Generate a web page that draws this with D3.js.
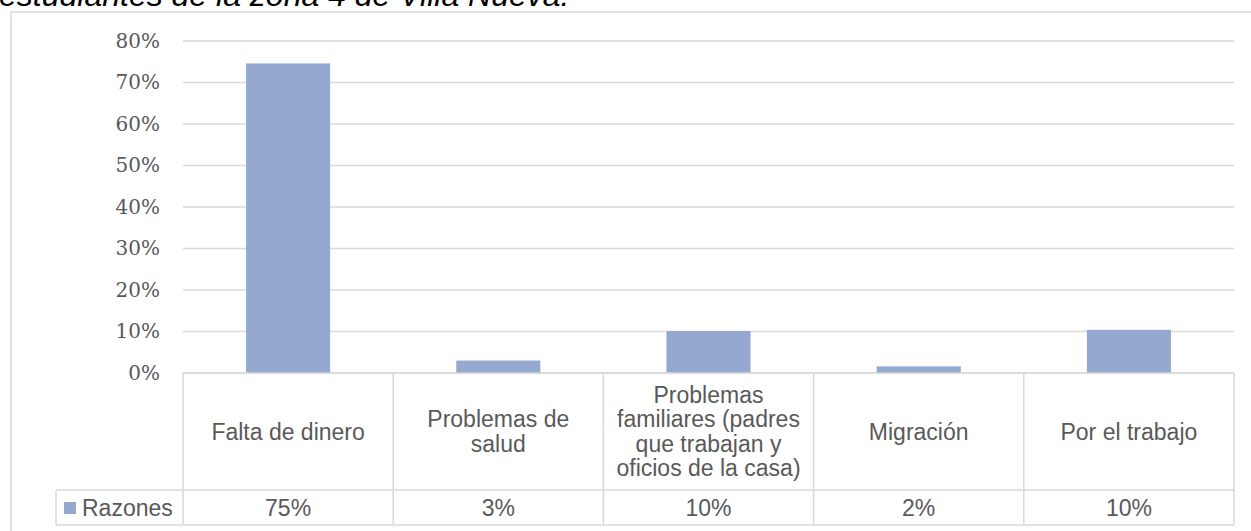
<!DOCTYPE html>
<html>
<head>
<meta charset="utf-8">
<script src="https://cdn.jsdelivr.net/npm/d3@7"></script>
<style>
  html, body { margin: 0; padding: 0; background: #ffffff; overflow: hidden; }
  svg { display: block; }
</style>
</head>
<body>
<svg id="chart" width="1251" height="531"></svg>
<script>
// ---- Data ----
const categories = [
  "Falta de dinero",
  "Problemas de salud",
  "Problemas familiares (padres que trabajan y oficios de la casa)",
  "Migración",
  "Por el trabajo"
];
const categoryLines = [
  ["Falta de dinero"],
  ["Problemas de", "salud"],
  ["Problemas", "familiares (padres", "que trabajan y", "oficios de la casa)"],
  ["Migración"],
  ["Por el trabajo"]
];
const seriesName = "Razones";
const values = [0.746, 0.030, 0.101, 0.016, 0.104];
const tableLabels = ["75%", "3%", "10%", "2%", "10%"];
const yTicks = [0, 0.1, 0.2, 0.3, 0.4, 0.5, 0.6, 0.7, 0.8];
const titleText = "estudiantes de la zona 4 de Villa Nueva.";

// ---- Layout ----
const svg = d3.select("#chart");
const plotLeft = 183, plotRight = 1234;
const yTop = 41, yBase = 373;
const headerBottom = 490, tableBottom = 525, legendLeft = 56;
const gridColor = "#d9d9d9";
const textColor = "#595959";
const barColor = "#95a9d0";

// Title fragment (cut at top, as in the source page)
svg.append("text")
  .attr("x", -1).attr("y", 6)
  .attr("font-family", "Liberation Sans, Arial, sans-serif")
  .attr("font-style", "italic")
  .attr("font-size", 32)
  .attr("fill", "#000")
  .text(titleText);

// Outer chart border
svg.append("rect")
  .attr("x", 11).attr("y", 12)
  .attr("width", 1300).attr("height", 600)
  .attr("fill", "none")
  .attr("stroke", gridColor).attr("stroke-width", 1.5);

const x = d3.scaleBand().domain(categories).range([plotLeft, plotRight]).padding(0);
const y = d3.scaleLinear().domain([0, 0.8]).range([yBase, yTop]);

// Gridlines
svg.append("g").selectAll("line").data(yTicks).join("line")
  .attr("x1", plotLeft).attr("x2", plotRight)
  .attr("y1", d => y(d)).attr("y2", d => y(d))
  .attr("stroke", gridColor).attr("stroke-width", 1.5);

// Y axis labels
const yAxis = d3.axisLeft(y).tickValues(yTicks).tickFormat(d3.format(".0%")).tickSize(0).tickPadding(0);
const ya = svg.append("g").attr("transform", `translate(160,0)`).call(yAxis);
ya.select(".domain").remove();
ya.selectAll("text")
  .attr("font-family", "DejaVu Serif, serif")
  .attr("font-size", 20)
  .attr("fill", textColor);

// Bars
const barW = x.bandwidth() * 0.4;
svg.append("g").selectAll("rect").data(values).join("rect")
  .attr("x", (d, i) => x(categories[i]) + (x.bandwidth() - barW) / 2)
  .attr("width", barW)
  .attr("y", d => y(d))
  .attr("height", d => yBase - y(d))
  .attr("fill", barColor);

// Data table
const tbl = svg.append("g").attr("stroke", gridColor).attr("stroke-width", 1.5);
tbl.append("line").attr("x1", plotLeft).attr("x2", plotRight).attr("y1", yBase).attr("y2", yBase);
tbl.append("line").attr("x1", legendLeft).attr("x2", plotRight).attr("y1", headerBottom).attr("y2", headerBottom);
tbl.append("line").attr("x1", legendLeft).attr("x2", plotRight).attr("y1", tableBottom).attr("y2", tableBottom);
tbl.append("line").attr("x1", legendLeft).attr("x2", legendLeft).attr("y1", headerBottom).attr("y2", tableBottom);
const bounds = categories.map(c => x(c)).concat([plotRight]);
tbl.selectAll("line.v").data(bounds).join("line").attr("class", "v")
  .attr("x1", d => d).attr("x2", d => d)
  .attr("y1", yBase).attr("y2", tableBottom);

const fontSans = "Liberation Sans, Arial, sans-serif";
const fs = 23, lh = 24.5;
const headerMid = (yBase + headerBottom) / 2;
categoryLines.forEach((lines, i) => {
  const cx = x(categories[i]) + x.bandwidth() / 2;
  const t = svg.append("text")
    .attr("font-family", fontSans).attr("font-size", fs)
    .attr("fill", textColor).attr("text-anchor", "middle");
  const startY = headerMid - (lines.length - 1) * lh / 2;
  lines.forEach((ln, j) => {
    t.append("tspan").attr("x", cx).attr("y", startY + j * lh).attr("dy", "0.35em").text(ln);
  });
});

const valMid = (headerBottom + tableBottom) / 2;
svg.append("g").selectAll("text").data(tableLabels).join("text")
  .attr("x", (d, i) => x(categories[i]) + x.bandwidth() / 2)
  .attr("y", valMid).attr("dy", "0.35em")
  .attr("text-anchor", "middle")
  .attr("font-family", fontSans).attr("font-size", fs)
  .attr("fill", textColor)
  .text(d => d);

// Legend key
svg.append("rect").attr("x", 64).attr("y", 502).attr("width", 12).attr("height", 12).attr("fill", barColor);
svg.append("text").attr("x", 82).attr("y", valMid).attr("dy", "0.35em")
  .attr("font-family", fontSans).attr("font-size", fs)
  .attr("fill", textColor).text(seriesName);
</script>
</body>
</html>
